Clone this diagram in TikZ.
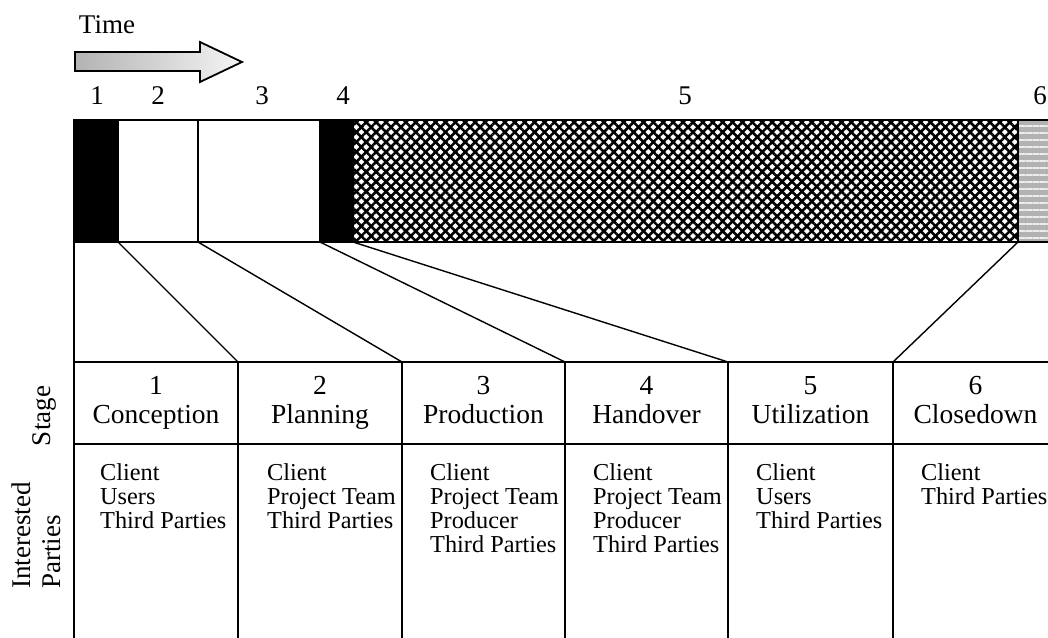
\documentclass[tikz,border=0pt]{standalone}
\usepackage{fontspec}
\setmainfont{Liberation Serif}
\usetikzlibrary{patterns.meta}

\begin{document}
\begin{tikzpicture}[x=1pt,y=-1pt,
  seg/.style={draw=black, line width=1.6pt, minimum height=122pt, inner sep=0pt,
    outer sep=0pt, anchor=north west},
  stagecell/.style={draw=black, line width=1.6pt, minimum height=82pt, inner sep=0pt,
    outer sep=0pt, anchor=north west, align=center, font=\fontsize{27.5}{29.5}\selectfont},
  partycell/.style={draw=black, line width=1.6pt, minimum height=201pt, inner sep=0pt,
    outer sep=0pt, anchor=north west},
  partytext/.style={anchor=north west, inner sep=0pt, align=left,
    font=\fontsize{24.3}{24.3}\selectfont},
  numlabel/.style={font=\fontsize{27}{30}\selectfont, inner sep=0pt},
  fan/.style={line width=1.4pt}]

\clip (0,0) rectangle (1048,637);

% time arrow
\node[numlabel] (time) at (107,25) {Time};
\draw[line width=1.8pt, left color=gray!60, right color=gray!8]
  (75,52) -- (200,52) -- (200,42) -- (242,62) -- (200,82) -- (200,71) -- (75,71) -- cycle;

% stage numbers above the bar
\node[numlabel] (n1) at (97,96) {1};
\node[numlabel] (n2) at (158,96) {2};
\node[numlabel] (n3) at (262,96) {3};
\node[numlabel] (n4) at (343,96) {4};
\node[numlabel] (n5) at (685,96) {5};
\node[numlabel] (n6) at (1040,96) {6};

% time bar divided into stages
\node[seg, fill=black, minimum width=44pt] (s1) at (74,120) {};
\node[seg, fill=white, minimum width=80pt] (s2) at (118,120) {};
\node[seg, fill=white, minimum width=122pt] (s3) at (198,120) {};
\node[seg, fill=black, minimum width=33pt] (s4) at (320,120) {};
\node[seg, minimum width=665pt,
  preaction={pattern={Lines[angle=45,distance=7pt,line width=2.6pt]}},
  pattern={Lines[angle=-45,distance=7pt,line width=2.6pt]}] (s5) at (353,120) {};
\node[seg, minimum width=50pt, preaction={fill=gray!60},
  pattern={Lines[angle=0,distance=7pt,line width=2.5pt]}, pattern color=gray!15] (s6) at (1018,120) {};

% stage row
\node[stagecell, minimum width=164pt] (c1) at (74,362) {\strut 1\\\strut Conception};
\node[stagecell, minimum width=164pt] (c2) at (238,362) {\strut 2\\\strut Planning};
\node[stagecell, minimum width=163pt] (c3) at (402,362) {\strut 3\\\strut Production};
\node[stagecell, minimum width=163pt] (c4) at (565,362) {\strut 4\\\strut Handover};
\node[stagecell, minimum width=165pt] (c5) at (728,362) {\strut 5\\\strut Utilization};
\node[stagecell, minimum width=165pt] (c6) at (893,362) {\strut 6\\\strut Closedown};

% interested parties row
\node[partycell, minimum width=164pt] (p1) at (74,444) {};
\node[partycell, minimum width=164pt] (p2) at (238,444) {};
\node[partycell, minimum width=163pt] (p3) at (402,444) {};
\node[partycell, minimum width=163pt] (p4) at (565,444) {};
\node[partycell, minimum width=165pt] (p5) at (728,444) {};
\node[partycell, minimum width=165pt] (p6) at (893,444) {};

\node[partytext] (t1) at (100,463) {Client\\Users\\Third Parties};
\node[partytext] (t2) at (267,463) {Client\\Project Team\\Third Parties};
\node[partytext] (t3) at (430,463) {Client\\Project Team\\Producer\\Third Parties};
\node[partytext] (t4) at (593,463) {Client\\Project Team\\Producer\\Third Parties};
\node[partytext] (t5) at (756,463) {Client\\Users\\Third Parties};
\node[partytext] (t6) at (921,463) {Client\\Third Parties};

% row headings
\node[numlabel, rotate=90] (stage) at (44,416) {Stage};
\node[numlabel, rotate=90, align=left, anchor=west] (parties) at (36,589)
  {Interested\\Parties};

% fan connecting the bar to the stage columns
\draw[fan] (s1.south west) -- (c1.north west);
\draw[fan] (s1.south east) -- (c1.north east);
\draw[fan] (s2.south east) -- (c2.north east);
\draw[fan] (s3.south east) -- (c3.north east);
\draw[fan] (s4.south east) -- (c4.north east);
\draw[fan] (s6.south west) -- (c5.north east);
\end{tikzpicture}
\end{document}
